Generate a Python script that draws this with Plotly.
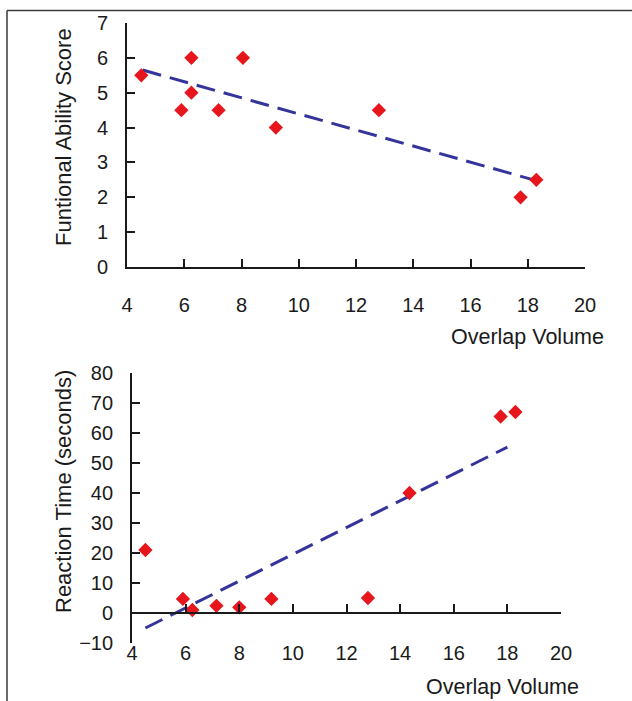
import plotly.graph_objects as go

# ---------------- data ----------------
# Top panel: Functional ability score vs overlap volume
fa_x = [4.5, 5.9, 6.25, 6.25, 7.2, 8.05, 9.2, 12.8, 17.75, 18.3]
fa_y = [5.5, 4.5, 6.0, 5.0, 4.5, 6.0, 4.0, 4.5, 2.0, 2.5]
fa_trend_x = [4.55, 18.2]
fa_trend_y = [5.65, 2.5]

# Bottom panel: Reaction time vs overlap volume
rt_x = [4.5, 5.9, 6.25, 7.15, 8.0, 9.2, 12.8, 14.35, 17.75, 18.3]
rt_y = [21.0, 4.7, 1.0, 2.4, 1.9, 4.7, 5.0, 40.0, 65.5, 67.0]
rt_trend_x = [4.5, 18.0]
rt_trend_y = [-5.0, 55.3]

x_ticks = [4, 6, 8, 10, 12, 14, 16, 18, 20]
fa_ticks = [0, 1, 2, 3, 4, 5, 6, 7]
rt_ticks = [-10, 0, 10, 20, 30, 40, 50, 60, 70, 80]

x_title = "Overlap Volume"
fa_title = "Funtional Ability Score"
rt_title = "Reaction Time (seconds)"

# ---------------- styling ----------------
W, H = 632, 701
RED = "#e6161c"
NAVY = "#34349a"
AX = "#1a1a1a"
FONT = "Liberation Sans, Arial, Helvetica, sans-serif"
TICK_SIZE = 20
XTITLE_SIZE = 21.5
YTITLE_SIZE = 22
DASH = "19px,9px"

def px(x):
    return x / W

def py(y):
    return 1 - y / H

fig = go.Figure()

# top panel
fig.add_trace(go.Scatter(x=fa_trend_x, y=fa_trend_y, mode="lines",
                         line=dict(color=NAVY, width=3, dash=DASH),
                         xaxis="x", yaxis="y", showlegend=False, hoverinfo="skip"))
fig.add_trace(go.Scatter(x=fa_x, y=fa_y, mode="markers",
                         marker=dict(symbol="diamond", size=11, color=RED, line=dict(width=0)),
                         xaxis="x", yaxis="y", showlegend=False, cliponaxis=False))

# bottom panel
fig.add_trace(go.Scatter(x=rt_trend_x, y=rt_trend_y, mode="lines",
                         line=dict(color=NAVY, width=3, dash=DASH),
                         xaxis="x2", yaxis="y2", showlegend=False, hoverinfo="skip"))
fig.add_trace(go.Scatter(x=rt_x, y=rt_y, mode="markers",
                         marker=dict(symbol="diamond", size=11, color=RED, line=dict(width=0)),
                         xaxis="x2", yaxis="y2", showlegend=False, cliponaxis=False))

tickfont = dict(family=FONT, size=TICK_SIZE, color=AX)

top_y0, top_y1 = 267, 23
bot_y0, bot_y1 = 643, 373
bot_range = [-10, 80]
# paper position of the y=0 line in the bottom panel
zero_frac = py(bot_y0) + (0 - bot_range[0]) / (bot_range[1] - bot_range[0]) * (py(bot_y1) - py(bot_y0))

common_x = dict(range=[4, 20], tickvals=x_ticks, ticks="inside", ticklen=8, tickwidth=1.5,
                tickcolor=AX, showline=True, linecolor=AX, linewidth=1.8, showgrid=False,
                zeroline=False, tickfont=tickfont, automargin=False)
common_y = dict(ticks="inside", ticklen=8, tickwidth=1.5, tickcolor=AX, showline=True,
                linecolor=AX, linewidth=1.8, showgrid=False, zeroline=False,
                tickfont=tickfont, ticklabelstandoff=13, automargin=False)

fig.update_layout(
    width=W, height=H, autosize=False,
    margin=dict(l=0, r=0, t=0, b=0),
    paper_bgcolor="white", plot_bgcolor="white",
    xaxis=dict(domain=[px(127), px(585)], anchor="y", ticklabelstandoff=19, **common_x),
    yaxis=dict(domain=[py(top_y0), py(top_y1)], range=[0, 7], tickvals=fa_ticks,
               anchor="x", **common_y),
    xaxis2=dict(domain=[px(132), px(561)], anchor="free", position=zero_frac,
                ticklabelstandoff=22, **common_x),
    yaxis2=dict(domain=[py(bot_y0), py(bot_y1)], range=bot_range, tickvals=rt_ticks,
                anchor="x2", **common_y),
    annotations=[
        dict(text=fa_title, x=px(63), y=py(137), xref="paper", yref="paper",
             textangle=-90, showarrow=False, xanchor="center", yanchor="middle",
             font=dict(family=FONT, size=YTITLE_SIZE, color=AX)),
        dict(text=rt_title, x=px(63), y=py(492), xref="paper", yref="paper",
             textangle=-90, showarrow=False, xanchor="center", yanchor="middle",
             font=dict(family=FONT, size=YTITLE_SIZE, color=AX)),
        dict(text=x_title, x=px(606), y=py(337), xref="paper", yref="paper",
             showarrow=False, xanchor="right", yanchor="middle",
             font=dict(family=FONT, size=XTITLE_SIZE, color=AX)),
        dict(text=x_title, x=px(581), y=py(687), xref="paper", yref="paper",
             showarrow=False, xanchor="right", yanchor="middle",
             font=dict(family=FONT, size=XTITLE_SIZE, color=AX)),
    ],
    shapes=[
        dict(type="line", xref="paper", yref="paper", x0=px(7), x1=1, y0=py(10.5), y1=py(10.5),
             line=dict(color="#3a3a3a", width=1.5)),
        dict(type="line", xref="paper", yref="paper", x0=px(7), x1=px(7), y0=py(10.5), y1=0,
             line=dict(color="#3a3a3a", width=1.5)),
    ],
)

# remove the default page margin so the figure sits at the window's top-left corner
fig.write_html("out.html",
               config={"displayModeBar": False},
               post_script="document.body.style.margin='0';document.body.style.overflow='hidden';")
